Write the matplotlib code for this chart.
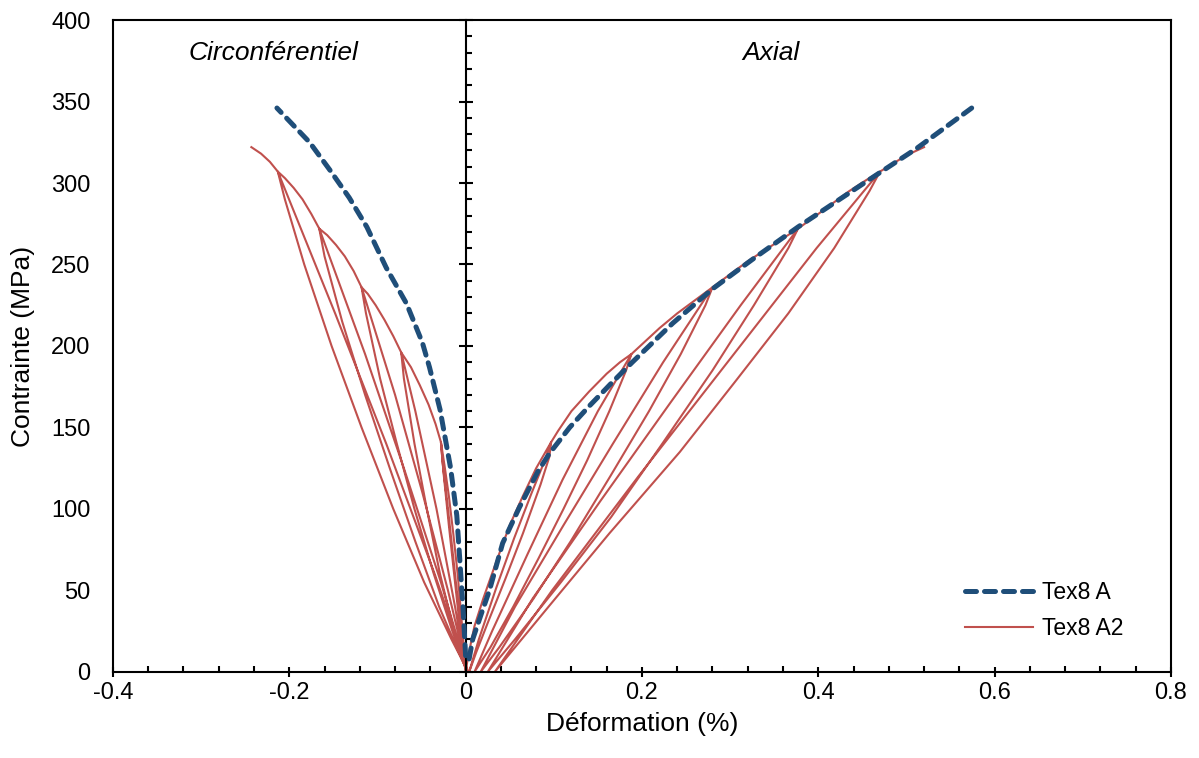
import matplotlib
matplotlib.use("Agg")
import matplotlib.pyplot as plt
from matplotlib.ticker import MultipleLocator

plt.rcParams['font.family'] = ['Liberation Sans', 'DejaVu Sans']

# Tex8 A (monotonic test), axial and hoop branches
tex8a_ax_x = [0.004, 0.008, 0.018, 0.027, 0.042, 0.061, 0.082, 0.095, 0.118, 0.140,
              0.165, 0.189, 0.235, 0.280, 0.325, 0.377, 0.466, 0.511, 0.574]
tex8a_ax_y = [8, 20, 36, 50, 79, 101, 123, 134, 150, 163,
              177, 190, 214, 235, 253, 273, 305, 321, 346]
tex8a_ci_x = [0.000, -0.003, -0.006, -0.010, -0.017, -0.029, -0.041, -0.049, -0.067,
              -0.090, -0.112, -0.132, -0.154, -0.177, -0.214]
tex8a_ci_y = [10, 40, 64, 96, 125, 161, 187, 202, 226, 248, 273, 291, 308, 325, 346]

# Tex8 A2 (cyclic test), axial branch
tex8a2_ax_x = [0.000, 0.003, 0.010, 0.020, 0.035, 0.050, 0.065, 0.080, 0.097,
               0.095, 0.085, 0.065, 0.045, 0.025, 0.012, 0.004,
               0.015, 0.035, 0.055, 0.075, 0.090, 0.097,
               0.105, 0.120, 0.140, 0.160, 0.175, 0.188,
               0.182, 0.163, 0.138, 0.111, 0.083, 0.054, 0.028, 0.010,
               0.030, 0.070, 0.110, 0.150, 0.188,
               0.200, 0.220, 0.240, 0.260, 0.280,
               0.272, 0.244, 0.208, 0.164, 0.119, 0.077, 0.038, 0.017,
               0.056, 0.111, 0.167, 0.224, 0.280,
               0.300, 0.320, 0.340, 0.360, 0.377,
               0.366, 0.327, 0.280, 0.223, 0.165, 0.108, 0.056, 0.025,
               0.076, 0.153, 0.232, 0.312, 0.377,
               0.395, 0.415, 0.435, 0.455, 0.470,
               0.458, 0.418, 0.366, 0.307, 0.243, 0.163, 0.094, 0.033,
               0.098, 0.196, 0.297, 0.398, 0.470,
               0.485, 0.500, 0.520]
tex8a2_ax_y = [0, 10, 28, 45, 68, 90, 108, 125, 141,
               132, 115, 85, 57, 30, 12, 0,
               20, 52, 82, 110, 130, 141,
               148, 160, 172, 183, 190, 195,
               185, 160, 130, 100, 70, 40, 15, 0,
               25, 72, 118, 160, 195,
               201, 211, 220, 228, 236,
               225, 195, 160, 120, 80, 45, 15, 0,
               40, 90, 140, 190, 236,
               244, 252, 259, 266, 272,
               260, 225, 185, 140, 95, 55, 20, 0,
               45, 105, 165, 225, 272,
               279, 287, 295, 302, 307,
               295, 260, 220, 179, 135, 85, 40, 0,
               50, 120, 190, 260, 307,
               312, 317, 322]

# Tex8 A2 (cyclic test), hoop branch
tex8a2_ci_x = [0.000, -0.002, -0.005, -0.009, -0.014, -0.019, -0.024, -0.028,
               -0.026, -0.020, -0.013, -0.006, 0.001,
               -0.005, -0.012, -0.019, -0.025, -0.028,
               -0.034, -0.042, -0.052, -0.062, -0.073,
               -0.070, -0.058, -0.044, -0.029, -0.013, 0.001,
               -0.012, -0.033, -0.057, -0.073,
               -0.082, -0.092, -0.102, -0.111, -0.118,
               -0.113, -0.097, -0.078, -0.058, -0.036, -0.015, 0.002,
               -0.020, -0.049, -0.080, -0.118,
               -0.127, -0.137, -0.147, -0.157, -0.166,
               -0.160, -0.140, -0.114, -0.086, -0.057, -0.030, 0.002,
               -0.028, -0.070, -0.114, -0.166,
               -0.175, -0.185, -0.195, -0.205, -0.213,
               -0.205, -0.183, -0.152, -0.118, -0.082, -0.047, -0.016, 0.003,
               -0.035, -0.090, -0.148, -0.213,
               -0.222, -0.232, -0.243]
tex8a2_ci_y = [0, 15, 35, 60, 85, 108, 127, 141,
               128, 100, 65, 30, 0,
               20, 55, 90, 122, 141,
               152, 164, 176, 187, 196,
               180, 140, 100, 60, 25, 0,
               40, 100, 160, 196,
               206, 216, 225, 232, 236,
               220, 180, 140, 100, 60, 25, 0,
               50, 110, 170, 236,
               246, 255, 262, 268, 272,
               255, 215, 170, 125, 80, 40, 0,
               55, 125, 195, 272,
               281, 290, 297, 303, 307,
               290, 250, 200, 150, 100, 55, 20, 0,
               60, 140, 220, 307,
               313, 318, 322]

blue = '#1F4E79'
red = '#C0504D'

fig = plt.figure(figsize=(11.99, 7.58), dpi=100)
ax = fig.add_axes([0.0942, 0.1135, 0.8824, 0.8601])

ax.plot(tex8a2_ax_x, tex8a2_ax_y, color=red, lw=1.5, label='Tex8 A2', zorder=2)
ax.plot(tex8a2_ci_x, tex8a2_ci_y, color=red, lw=1.5, zorder=2)
ax.plot(tex8a_ax_x, tex8a_ax_y, color=blue, lw=3.6, dashes=(2.2, 1.6),
        dash_capstyle='round', label='Tex8 A', zorder=3)
ax.plot(tex8a_ci_x, tex8a_ci_y, color=blue, lw=3.6, dashes=(2.2, 1.6),
        dash_capstyle='round', zorder=3)

ax.set_xlim(-0.4, 0.8)
ax.set_ylim(0, 400)

# vertical axis crosses at x = 0, labels stay on the left
ax.spines['left'].set_position(('data', 0))
for s in ax.spines.values():
    s.set_linewidth(1.5)
ax.xaxis.set_major_locator(MultipleLocator(0.2))
ax.xaxis.set_minor_locator(MultipleLocator(0.04))
ax.yaxis.set_major_locator(MultipleLocator(50))
ax.yaxis.set_minor_locator(MultipleLocator(10))
ax.tick_params(axis='y', which='major', direction='inout', length=10, width=1.5, labelleft=False)
ax.tick_params(axis='y', which='minor', direction='in', length=4.5, width=1.5)
ax.tick_params(axis='x', which='major', direction='inout', length=6.5, width=1.5,
               labelsize=17, pad=4)
ax.tick_params(axis='x', which='minor', direction='in', length=4, width=1.5)
ax.set_xticks([-0.4, -0.2, 0, 0.2, 0.4, 0.6, 0.8])
ax.set_xticklabels(['-0.4', '-0.2', '0', '0.2', '0.4', '0.6', '0.8'])

sec = ax.secondary_yaxis('left')
sec.set_yticks(range(0, 401, 50))
sec.tick_params(axis='y', length=0, labelsize=17, pad=16)
sec.spines['left'].set_linewidth(1.5)
sec.set_ylabel('Contrainte (MPa)', fontsize=19, labelpad=12)

ax.set_xlabel('Déformation (%)', fontsize=19, labelpad=6)

ax.text(-0.218, 380, 'Circonférentiel', style='italic', fontsize=19, ha='center', va='center')
ax.text(0.346, 380, 'Axial', style='italic', fontsize=19, ha='center', va='center')

h, l = ax.get_legend_handles_labels()
ax.legend([h[1], h[0]], [l[1], l[0]], loc='lower right', bbox_to_anchor=(0.975, 0.018),
          frameon=False, fontsize=16.5, handlelength=3.0, handletextpad=0.4,
          labelspacing=0.55)

fig.savefig('out.png', dpi=100)
